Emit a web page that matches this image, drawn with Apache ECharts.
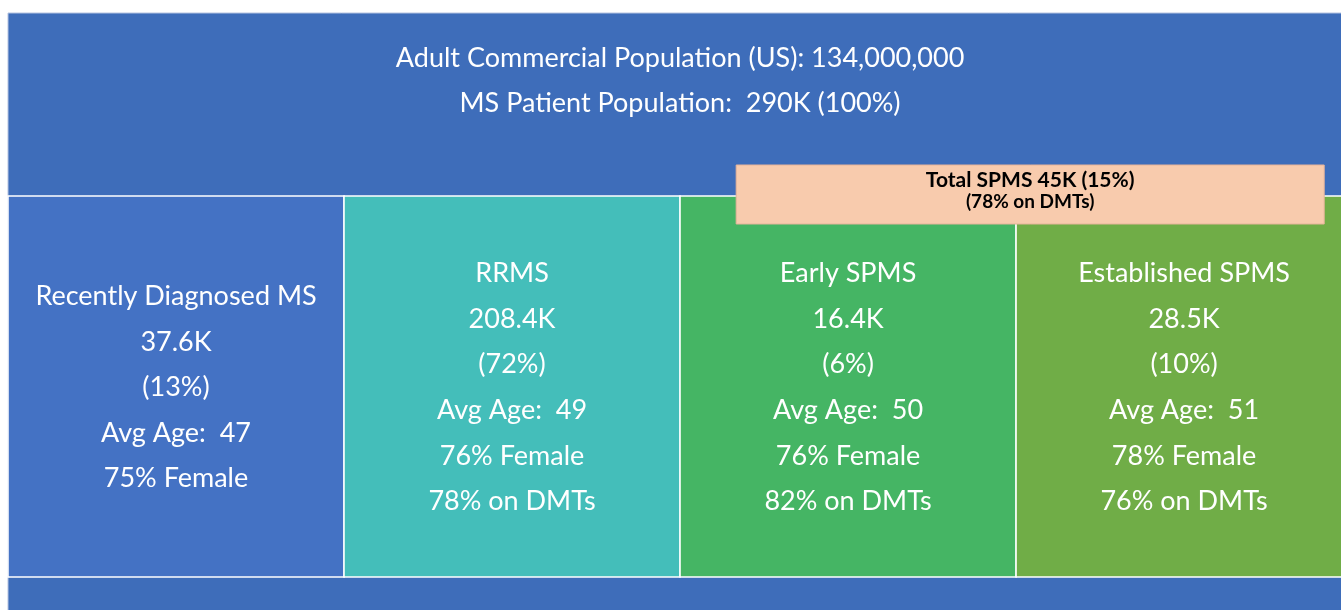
<!DOCTYPE html>
<html><head><meta charset="utf-8">
<script src="https://cdn.jsdelivr.net/npm/echarts@6/dist/echarts.min.js"></script>
<style>html,body{margin:0;padding:0;background:#fff}#c{width:1341px;height:610px}</style>
</head><body><div id="c"></div>
<script>
// ---- data ----
const headerLines = ['Adult Commercial Population (US): 134,000,000', 'MS Patient Population:  290K (100%)'];
const segments = ['Recently Diagnosed MS', 'RRMS', 'Early SPMS', 'Established SPMS'];
const countsK = [37.6, 208.4, 16.4, 28.5];
const sharePct = [13, 72, 6, 10];
const avgAge = [47, 49, 50, 51];
const femalePct = [75, 76, 76, 78];
const dmtPct = [null, 78, 82, 76];
const spmsTotalK = 45;
const spmsSharePct = 15;
const spmsDmtPct = 78;

// ---- style / layout ----
const colors = ['#4472C4', '#44BEBA', '#45B564', '#70AD47'];
const bgColor = '#3E6DBA';
const FONT = 'Lato, "Open Sans", sans-serif';
const visibleCols = 3.967;     // last column is cropped by the page edge
const headerBand = [0, 181];   // y units (px from top of panel)
const boxBand = [183, 564];
const spmsBand = [152, 211];
const spmsSpan = [2.167, 3.917];

const chart = echarts.init(document.getElementById('c'), null, {renderer: 'canvas'});

function segText(i) {
  const lines = [segments[i], countsK[i] + 'K', '(' + sharePct[i] + '%)', 'Avg Age:  ' + avgAge[i], femalePct[i] + '% Female'];
  if (dmtPct[i] != null) lines.push(dmtPct[i] + '% on DMTs');
  return lines.join('\n');
}

const option = {
  animation: false,
  grid: {left: 8, top: 13, right: 0, bottom: 0},
  xAxis: {type: 'value', min: 0, max: visibleCols, show: false},
  yAxis: {type: 'value', min: 0, max: 597, inverse: true, show: false},
  series: [
    {
      type: 'custom', silent: true,
      data: [[0, visibleCols]],
      renderItem: function (params, api) {
        const p0 = api.coord([0, 0]);
        const p1 = api.coord([visibleCols, 597]);
        return {type: 'group', children: [
          {type: 'rect', shape: {x: p0[0], y: p0[1], width: p1[0] - p0[0] + 2, height: p1[1] - p0[1] + 2},
           style: {fill: bgColor, stroke: '#B4C3E0', lineWidth: 1}},
          {type: 'text', style: {x: api.coord([2, 0])[0], y: api.coord([0, 68])[1], text: headerLines.join('\n'),
            fill: '#fff', font: '27px ' + FONT, align: 'center', verticalAlign: 'middle', lineHeight: 45}}
        ]};
      }
    },
    {
      type: 'custom', silent: true,
      data: segments.map((s, i) => [i, i + 1]),
      renderItem: function (params, api) {
        const i = params.dataIndex;
        const a = api.coord([api.value(0), boxBand[0]]);
        const b = api.coord([api.value(1), boxBand[1]]);
        const cx = (a[0] + b[0]) / 2, cy = (a[1] + b[1]) / 2;
        return {type: 'group', children: [
          {type: 'rect', shape: {x: a[0], y: a[1], width: b[0] - a[0], height: b[1] - a[1]},
           style: {fill: colors[i], stroke: '#ffffff', lineWidth: 1.5}},
          {type: 'text', z2: 10, style: {x: cx, y: cy + 1, text: segText(i), fill: '#fff', font: '27px ' + FONT,
            align: 'center', verticalAlign: 'middle', lineHeight: 45.6}}
        ]};
      }
    },
    {
      type: 'custom', silent: true, z: 5,
      data: [spmsSpan],
      renderItem: function (params, api) {
        const a = api.coord([api.value(0), spmsBand[0]]);
        const b = api.coord([api.value(1), spmsBand[1]]);
        return {type: 'group', children: [
          {type: 'rect', shape: {x: a[0], y: a[1], width: b[0] - a[0], height: b[1] - a[1]},
           style: {fill: '#F8CBAD', stroke: '#E6B49A', lineWidth: 1}},
          {type: 'text', style: {x: (a[0] + b[0]) / 2, y: (a[1] + b[1]) / 2 - 4,
            text: '{a|Total SPMS ' + spmsTotalK + 'K (' + spmsSharePct + '%)}\n{b|(' + spmsDmtPct + '% on DMTs)}',
            align: 'center', verticalAlign: 'middle',
            rich: {a: {fontFamily: FONT, fontSize: 21, fontWeight: 'bold', fill: '#000', lineHeight: 22, align: 'center'},
                   b: {fontFamily: FONT, fontSize: 19, fontWeight: 'bold', fill: '#000', lineHeight: 21, align: 'center'}}}}
        ]};
      }
    }
  ]
};
chart.setOption(option);
</script></body></html>
